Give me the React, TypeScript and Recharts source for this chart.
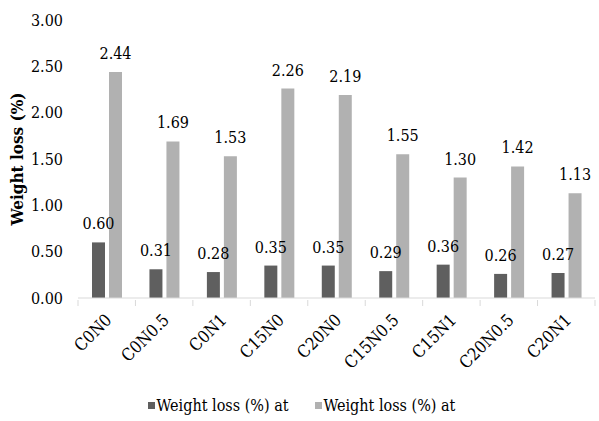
import React from 'react';
import { BarChart, Bar, XAxis, YAxis, Legend, LabelList } from 'recharts';

const categories = ['C0N0', 'C0N0.5', 'C0N1', 'C15N0', 'C20N0', 'C15N0.5', 'C15N1', 'C20N0.5', 'C20N1'];
const seriesA = [0.6, 0.31, 0.28, 0.35, 0.35, 0.29, 0.36, 0.26, 0.27];
const seriesB = [2.44, 1.69, 1.53, 2.26, 2.19, 1.55, 1.3, 1.42, 1.13];
const seriesNames = ['Weight loss (%) at', 'Weight loss (%) at'];
const yTicks = [0, 0.5, 1, 1.5, 2, 2.5, 3];

const data = categories.map((name, i) => ({ name, a: seriesA[i], b: seriesB[i] }));

const W = 599;
const H = 421;
const MARGIN = { top: 20, right: 4, bottom: 6, left: 0 };
const Y_AXIS_W = 78;
const FONT = "'DejaVu Serif Condensed', 'DejaVu Serif'";
const FS = 16;
const DARK = '#5f5f5f';
const LIGHT = '#b1b1b1';
const AXIS = '#d9d9d9';

const plotW = W - MARGIN.left - MARGIN.right - Y_AXIS_W;
const bandW = plotW / categories.length;

// Category label rotated -45°, plus Excel-style tick marks on the band boundaries
const CategoryTick = (props: any) => {
  const { x, y, payload, index } = props;
  const left = x - bandW / 2;
  const right = x + bandW / 2;
  const ax = x + 6;
  const ay = y + 13;
  return (
    <g>
      <line x1={left} y1={y - 8} x2={left} y2={y - 2} stroke={AXIS} strokeWidth={1} />
      {index === categories.length - 1 && (
        <line x1={right} y1={y - 8} x2={right} y2={y - 2} stroke={AXIS} strokeWidth={1} />
      )}
      <text
        x={ax}
        y={ay}
        textAnchor="end"
        transform={`rotate(-45, ${ax}, ${ay})`}
        style={{ fontFamily: FONT, fontSize: 17 }}
        fill="#000"
      >
        {payload.value}
      </text>
    </g>
  );
};

const LegendContent = () => (
  <div
    style={{
      display: 'flex',
      justifyContent: 'center',
      gap: 26,
      fontFamily: FONT,
      fontSize: FS,
      color: '#000',
      paddingLeft: 8,
    }}
  >
    {[DARK, LIGHT].map((c, i) => (
      <div key={i} style={{ display: 'flex', alignItems: 'center' }}>
        <span style={{ width: 7, height: 7, background: c, display: 'inline-block', marginRight: 2 }} />
        <span>{seriesNames[i]}</span>
      </div>
    ))}
  </div>
);

const labelStyle = { fontFamily: FONT, fontSize: FS, fill: '#000' };

export default function App() {
  return (
    <div style={{ width: W, height: H, background: '#fff' }}>
      <style>{'body{margin:0}'}</style>
      <BarChart width={W} height={H} data={data} margin={MARGIN} barSize={13} barGap={4}>
        <XAxis
          dataKey="name"
          height={98}
          axisLine={{ stroke: AXIS }}
          tickLine={false}
          tickSize={8}
          interval={0}
          tick={<CategoryTick />}
        />
        <YAxis
          width={Y_AXIS_W}
          domain={[0, 3]}
          ticks={yTicks}
          axisLine={false}
          tickLine={false}
          tickSize={0}
          tickMargin={15}
          tickFormatter={(v: number) => v.toFixed(2)}
          tick={{ style: labelStyle, fill: '#000' }}
          label={{
            value: 'Weight loss (%)',
            angle: -90,
            position: 'center',
            dx: -22,
            style: { ...labelStyle, fontSize: 17, fontWeight: 'bold', textAnchor: 'middle' },
          }}
        />
        <Legend verticalAlign="bottom" content={<LegendContent />} />
        <Bar dataKey="a" name={seriesNames[0]} fill={DARK} isAnimationActive={false}>
          <LabelList
            dataKey="a"
            position="top"
            offset={13}
            formatter={(v: number) => v.toFixed(2)}
            style={labelStyle}
          />
        </Bar>
        <Bar dataKey="b" name={seriesNames[1]} fill={LIGHT} isAnimationActive={false}>
          <LabelList
            dataKey="b"
            position="top"
            offset={13}
            formatter={(v: number) => v.toFixed(2)}
            style={labelStyle}
          />
        </Bar>
      </BarChart>
    </div>
  );
}
